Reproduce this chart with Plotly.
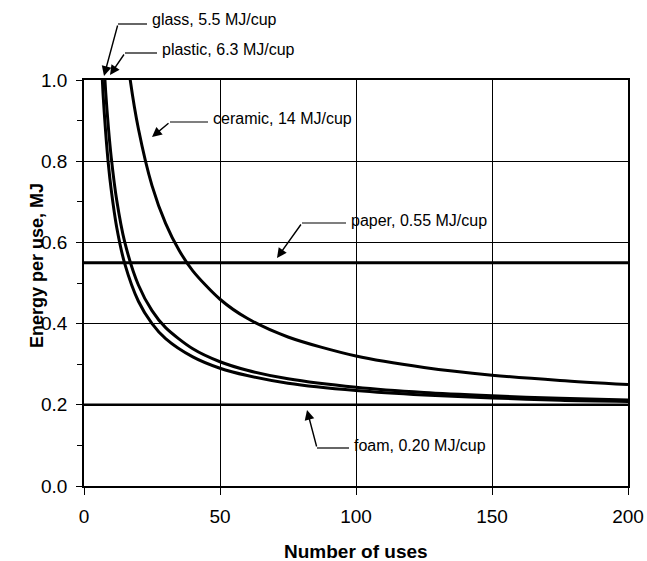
import plotly.graph_objects as go

# ---- data ----
uses_glass = [6, 7, 8, 9, 10, 12, 15, 20, 25, 30, 40, 50, 60, 75, 100, 125, 150, 175, 200]
energy_glass = [1.10, 0.966, 0.868, 0.79, 0.73, 0.638, 0.547, 0.455, 0.40, 0.363, 0.318, 0.29,
                0.272, 0.253, 0.235, 0.224, 0.217, 0.211, 0.208]

uses_plastic = [6, 7, 8, 9, 10, 12, 15, 20, 25, 30, 40, 50, 60, 75, 100, 125, 150, 175, 200]
energy_plastic = [1.23, 1.08, 0.968, 0.88, 0.81, 0.705, 0.60, 0.495, 0.432, 0.39, 0.338, 0.306,
                  0.285, 0.264, 0.243, 0.23, 0.222, 0.216, 0.212]

uses_ceramic = [15, 17, 20, 25, 30, 35, 40, 50, 60, 75, 100, 125, 150, 175, 200]
energy_ceramic = [1.113, 1.0, 0.88, 0.74, 0.647, 0.58, 0.53, 0.46, 0.413, 0.367, 0.32, 0.292,
                  0.273, 0.26, 0.25]

uses_flat = [0, 200]
energy_paper = [0.55, 0.55]
energy_foam = [0.20, 0.20]

x_ticks = [0, 50, 100, 150, 200]
y_ticks = [0.0, 0.2, 0.4, 0.6, 0.8, 1.0]
y_tick_labels = ["0.0", "0.2", "0.4", "0.6", "0.8", "1.0"]

labels = ["glass, 5.5 MJ/cup", "plastic, 6.3 MJ/cup", "ceramic, 14 MJ/cup",
          "paper, 0.55 MJ/cup", "foam, 0.20 MJ/cup"]

# ---- figure ----
W, H = 647, 561
L, R, T, B = 84, 19, 80, 75
PW, PH = W - L - R, H - T - B


def px(xp):
    return (xp - L) / PW


def py(yp):
    return (H - B - yp) / PH


FONT = "Liberation Sans, Arial"
fig = go.Figure()
for xs, ys in [(uses_glass, energy_glass), (uses_plastic, energy_plastic),
               (uses_ceramic, energy_ceramic)]:
    fig.add_trace(go.Scatter(x=xs, y=ys, mode="lines",
                             line=dict(color="black", width=3, shape="spline", smoothing=0.8)))
fig.add_trace(go.Scatter(x=uses_flat, y=energy_paper, mode="lines",
                         line=dict(color="black", width=3)))
fig.add_trace(go.Scatter(x=uses_flat, y=energy_foam, mode="lines",
                         line=dict(color="black", width=2.5)))

# leader lines (page pixels): text-left, text-center-y, bend point, arrow tip
leaders = [
    (150, 20, (118, 24), (104, 76)),
    (160, 50, (125, 53), (110, 75)),
    (211, 118, (170, 122), (152, 137)),
    (349, 220, (302, 223), (277, 258)),
    (352, 445, (317, 448), (307, 410)),
]

annotations = []
shapes = []
for lab, (tx, ty, (bx, by), (ex, ey)) in zip(labels, leaders):
    annotations.append(dict(x=px(tx), y=py(ty), xref="paper", yref="paper", text=lab,
                            showarrow=False, xanchor="left", yanchor="middle",
                            font=dict(family=FONT, size=16, color="black")))
    shapes.append(dict(type="line", xref="paper", yref="paper",
                       x0=px(bx), y0=py(by), x1=px(tx - 3), y1=py(by),
                       line=dict(color="black", width=1.2)))
    annotations.append(dict(x=px(ex), y=py(ey), xref="paper", yref="paper", text="",
                            showarrow=True, ax=bx - ex, ay=by - ey, axref="pixel", ayref="pixel",
                            arrowhead=2, arrowsize=1.4, arrowwidth=1.4, arrowcolor="black"))

# axis titles placed as annotations
annotations.append(dict(x=px(356), y=py(551), xref="paper", yref="paper",
                        text="<b>Number of uses</b>", showarrow=False,
                        xanchor="center", yanchor="middle",
                        font=dict(family=FONT, size=19, color="black")))
annotations.append(dict(x=px(37), y=py(266), xref="paper", yref="paper",
                        text="<b>Energy per use, MJ</b>", showarrow=False, textangle=-90,
                        xanchor="center", yanchor="middle",
                        font=dict(family=FONT, size=18, color="black")))

fig.update_layout(
    width=W, height=H,
    margin=dict(l=L, r=R, t=T, b=B),
    paper_bgcolor="white", plot_bgcolor="white",
    showlegend=False,
    font=dict(family=FONT, color="black"),
    annotations=annotations,
    shapes=shapes,
    xaxis=dict(range=[0, 200], tickvals=x_ticks, showgrid=True, gridcolor="black", gridwidth=1,
               showline=True, linecolor="black", linewidth=1.5, mirror=True, automargin=False,
               ticks="outside", ticklen=7, tickcolor="black", zeroline=False,
               tickfont=dict(size=19), ticklabelstandoff=5),
    yaxis=dict(range=[0, 1.0], tickvals=y_ticks, ticktext=y_tick_labels, showgrid=True,
               gridcolor="black", gridwidth=1, showline=True, linecolor="black", linewidth=1.5,
               mirror=True, automargin=False, ticks="outside", ticklen=6, tickcolor="black",
               zeroline=False, tickfont=dict(size=19), ticklabelstandoff=5,
               minor=dict(dtick=0.1, ticks="outside", ticklen=5, tickcolor="black", showgrid=False)),
)

fig.write_html(
    "out.html",
    config={"displayModeBar": False},
    post_script="document.body.style.margin='0px';document.body.style.overflow='hidden';",
)
